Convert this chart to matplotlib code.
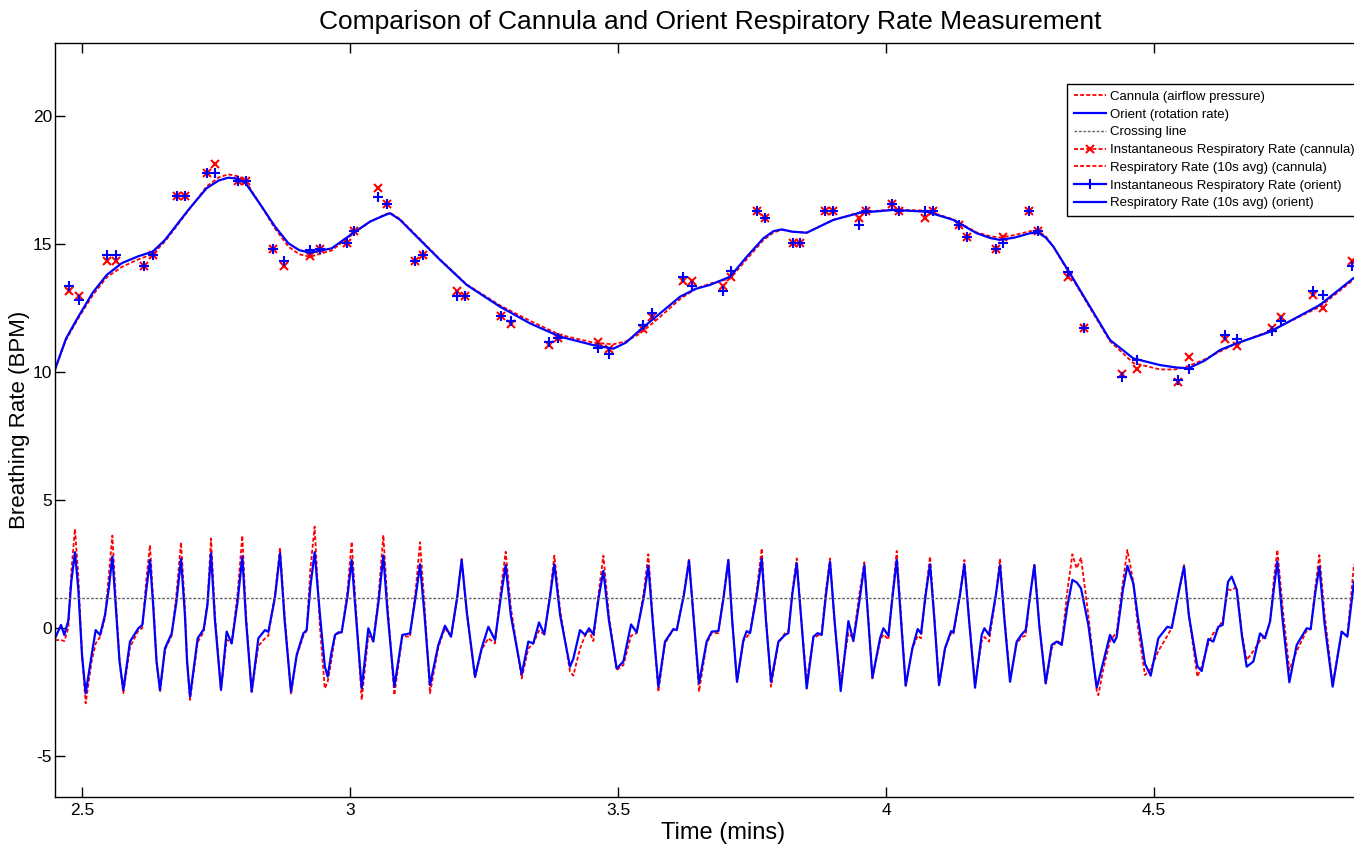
import matplotlib.pyplot as plt
from matplotlib.lines import Line2D

plt.rcParams['font.family'] = ['Liberation Sans', 'DejaVu Sans']
plt.rcParams['axes.unicode_minus'] = False

# breathing waveforms (time in mins, amplitude)
wave_t = [
    2.4496, 2.4608, 2.4670, 2.4745, 2.4800, 2.4869, 2.4931, 2.5000, 2.5068, 2.5180,
    2.5255, 2.5336, 2.5429, 2.5500, 2.5566, 2.5640, 2.5700, 2.5771, 2.5895, 2.6051,
    2.6125, 2.6200, 2.6268, 2.6330, 2.6390, 2.6455, 2.6548, 2.6673, 2.6760, 2.6847,
    2.6920, 2.6960, 2.7015, 2.7158, 2.7270, 2.7340, 2.7407, 2.7480, 2.7593, 2.7699,
    2.7792, 2.7900, 2.7991, 2.8060, 2.8165, 2.8290, 2.8414, 2.8476, 2.8600, 2.8694,
    2.8780, 2.8899, 2.9005, 2.9129, 2.9191, 2.9260, 2.9340, 2.9440, 2.9530, 2.9583,
    2.9650, 2.9720, 2.9782, 2.9844, 2.9950, 3.0031, 3.0110, 3.0218, 3.0342, 3.0435,
    3.0530, 3.0622, 3.0700, 3.0827, 3.0976, 3.1119, 3.1230, 3.1306, 3.1390, 3.1492,
    3.1648, 3.1772, 3.1884, 3.2000, 3.2083, 3.2180, 3.2332, 3.2456, 3.2581, 3.2705,
    3.2820, 3.2904, 3.3000, 3.3203, 3.3327, 3.3420, 3.3526, 3.3625, 3.3730, 3.3812,
    3.3920, 3.4104, 3.4166, 3.4291, 3.4385, 3.4459, 3.4540, 3.4640, 3.4727, 3.4830,
    3.4975, 3.5100, 3.5243, 3.5349, 3.5480, 3.5566, 3.5650, 3.5753, 3.5877, 3.6033,
    3.6095, 3.6230, 3.6325, 3.6410, 3.6511, 3.6654, 3.6748, 3.6872, 3.6970, 3.7059,
    3.7130, 3.7220, 3.7339, 3.7401, 3.7463, 3.7590, 3.7681, 3.7760, 3.7855, 3.7992,
    3.8116, 3.8178, 3.8250, 3.8334, 3.8420, 3.8520, 3.8645, 3.8725, 3.8800, 3.8880,
    3.8955, 3.9040, 3.9154, 3.9298, 3.9391, 3.9500, 3.9596, 3.9670, 3.9746, 3.9889,
    3.9951, 4.0044, 4.0120, 4.0200, 4.0280, 4.0367, 4.0492, 4.0591, 4.0653, 4.0740,
    4.0821, 4.0900, 4.0989, 4.1101, 4.1213, 4.1257, 4.1380, 4.1462, 4.1550, 4.1661,
    4.1785, 4.1835, 4.1922, 4.2050, 4.2127, 4.2210, 4.2314, 4.2438, 4.2532, 4.2606,
    4.2690, 4.2768, 4.2860, 4.2979, 4.3091, 4.3185, 4.3278, 4.3380, 4.3477, 4.3558,
    4.3638, 4.3775, 4.3931, 4.3961, 4.4055, 4.4179, 4.4254, 4.4303, 4.4420, 4.4503,
    4.4614, 4.4700, 4.4832, 4.4938, 4.5081, 4.5249, 4.5330, 4.5480, 4.5560, 4.5650,
    4.5808, 4.5889, 4.6014, 4.6107, 4.6200, 4.6281, 4.6380, 4.6449, 4.6542, 4.6640,
    4.6729, 4.6853, 4.6978, 4.7071, 4.7164, 4.7240, 4.7301, 4.7400, 4.7525, 4.7662,
    4.7848, 4.7923, 4.8010, 4.8085, 4.8180, 4.8333, 4.8501, 4.8607, 4.8731,
]
orient_wave = [
    -0.40, 0.12, -0.27, 0.30, 1.81, 2.96, 1.50, -1.05, -2.55, -1.05,
    -0.08, -0.27, 0.51, 1.55, 2.79, 0.51, -1.30, -2.42, -0.53, -0.01,
    0.12, 1.50, 2.66, 0.80, -1.30, -2.42, -0.79, -0.21, 1.00, 2.70,
    0.50, -1.30, -2.68, -0.40, -0.05, 0.90, 2.92, 0.30, -2.42, -0.14,
    -0.60, 1.00, 2.79, 0.30, -2.49, -0.40, -0.08, -0.15, 1.20, 2.92,
    0.30, -2.49, -1.05, -0.21, -0.08, 1.60, 2.96, 0.50, -1.50, -1.90,
    -1.00, -0.27, -0.17, -0.17, 1.20, 2.66, 0.50, -2.36, -0.01, -0.53,
    1.00, 2.83, 0.60, -2.29, -0.27, -0.21, 1.30, 2.49, 0.50, -2.23,
    -0.66, 0.09, -0.34, 1.20, 2.66, 0.60, -1.90, -0.79, 0.05, -0.47,
    1.30, 2.46, 0.50, -1.81, -0.53, -0.60, 0.22, -0.25, 1.20, 2.49,
    0.50, -1.51, -1.20, -0.08, -0.27, -0.01, -0.25, 1.20, 2.23, 0.30,
    -1.58, -1.31, 0.14, -0.17, 1.20, 2.43, 0.20, -2.29, -0.53, -0.04,
    -0.08, 1.30, 2.62, 0.40, -2.16, -0.53, -0.14, -0.12, 1.20, 2.66,
    0.30, -2.10, -0.47, -0.12, -0.20, 1.30, 2.72, 0.30, -2.10, -0.53,
    -0.27, -0.20, 1.30, 2.53, 0.30, -2.36, -0.34, -0.20, -0.27, 1.30,
    2.59, 0.30, -2.46, 0.27, -0.51, 1.00, 2.46, 0.30, -1.94, -0.40,
    -0.01, -0.30, 1.20, 2.66, 0.30, -2.25, -0.79, -0.04, -0.21, 1.30,
    2.49, 0.40, -2.23, -0.79, -0.12, -0.17, 1.30, 2.49, 0.30, -2.33,
    -0.27, -0.01, -0.27, 1.30, 2.46, 0.30, -2.10, -0.53, -0.25, -0.08,
    1.30, 2.46, 0.10, -2.16, -0.66, -0.53, -0.66, 0.80, 1.88, 1.78,
    1.55, 0.12, -2.33, -2.10, -1.31, -0.27, -0.56, -0.35, 1.50, 2.43,
    1.74, 0.40, -1.40, -1.86, -0.40, 0.05, 0.00, 1.60, 2.40, 0.50,
    -1.50, -1.68, -0.43, -0.53, 0.05, 0.12, 1.80, 2.01, 1.50, -0.30,
    -1.51, -1.31, -0.21, -0.40, 0.25, 1.60, 2.59, 0.30, -2.12, -0.66,
    -0.01, -0.04, 1.40, 2.40, 0.20, -2.29, -0.14, -0.34, 1.80,
]
cannula_wave = [
    -0.47, -0.47, -0.51, 0.00, 2.20, 3.87, 2.00, -1.05, -2.94, -1.30,
    -0.60, -0.35, 0.40, 2.07, 3.61, 0.77, -1.30, -2.55, -0.75, -0.10,
    0.00, 1.90, 3.24, 1.00, -1.30, -2.50, -0.85, -0.30, 1.30, 3.35,
    0.80, -1.30, -2.81, -0.55, -0.15, 1.00, 3.50, 0.50, -2.42, -0.45,
    -0.60, 1.30, 3.61, 0.50, -2.49, -0.70, -0.40, -0.30, 1.30, 3.14,
    0.50, -2.59, -1.10, -0.30, -0.10, 2.30, 3.96, 0.00, -2.36, -2.10,
    -1.30, -0.30, -0.20, -0.20, 1.40, 3.37, 0.80, -2.81, -0.30, -0.50,
    1.20, 3.63, 0.90, -2.62, -0.30, -0.35, 1.60, 3.35, 0.90, -2.55,
    -0.75, 0.00, -0.34, 1.20, 2.70, 0.60, -1.95, -0.85, -0.40, -0.60,
    1.60, 2.98, 0.80, -1.97, -0.80, -0.60, -0.10, -0.25, 1.30, 2.83,
    0.70, -1.70, -1.86, -0.80, -0.30, -0.10, -0.51, 1.40, 2.83, 0.50,
    -1.64, -1.45, -0.30, -0.20, 1.40, 2.88, 0.30, -2.49, -0.60, -0.05,
    -0.10, 1.40, 2.72, 0.50, -2.49, -0.60, -0.20, -0.20, 1.30, 2.66,
    0.30, -2.10, -0.50, -0.35, -0.20, 1.50, 3.11, 0.40, -2.29, -0.60,
    -0.20, -0.15, 1.40, 2.72, 0.30, -2.10, -0.40, -0.30, -0.20, 1.50,
    2.72, 0.20, -2.10, -0.20, -0.40, 1.30, 2.57, 0.30, -1.97, -0.50,
    -0.25, -0.45, 1.30, 3.01, 0.50, -2.25, -0.80, -0.30, -0.40, 1.40,
    2.79, 0.50, -2.23, -0.80, -0.20, -0.25, 1.30, 2.66, 0.30, -2.16,
    -0.50, -0.35, -0.53, 1.30, 2.72, 0.40, -2.00, -0.60, -0.35, -0.30,
    1.30, 2.46, 0.10, -2.16, -0.80, -0.50, -0.60, 1.40, 2.88, 2.33,
    2.75, 0.50, -2.45, -2.62, -1.60, -0.50, -0.30, -0.15, 1.80, 3.05,
    1.80, 0.00, -1.84, -1.60, -0.90, -0.30, 0.00, 1.60, 2.46, 0.50,
    -1.90, -1.50, -0.60, -0.20, 0.00, 0.30, 1.50, 1.48, 1.61, -0.20,
    -1.25, -0.90, -0.50, -0.30, 0.20, 2.00, 3.05, 0.80, -1.64, -0.90,
    -0.10, -0.05, 1.60, 2.85, 0.60, -2.20, -0.15, -0.30, 2.50,
]
crossing_level = 1.16

# instantaneous respiratory rate (BPM) at each detected breath
inst_t = [
    2.4757, 2.4935, 2.5461, 2.5634, 2.6162, 2.6319, 2.6767, 2.6922, 2.7326, 2.7481,
    2.7905, 2.8054, 2.8569, 2.8763, 2.9254, 2.9446, 2.9938, 3.0080, 3.0517, 3.0696,
    3.1213, 3.1368, 3.1991, 3.2151, 3.2812, 3.2998, 3.3718, 3.3881, 3.4632, 3.4826,
    3.5472, 3.5634, 3.6207, 3.6375, 3.6965, 3.7103, 3.7588, 3.7737, 3.8259, 3.8396,
    3.8867, 3.9017, 3.9502, 3.9627, 4.0112, 4.0248, 4.0733, 4.0871, 4.1368, 4.1517,
    4.2052, 4.2183, 4.2659, 4.2842, 4.3401, 4.3694, 4.4409, 4.4677, 4.5453, 4.5649,
    4.6333, 4.6542, 4.7196, 4.7369, 4.7972, 4.8159, 4.8689,
]
inst_cannula = [
    13.18, 12.98, 14.35, 14.35, 14.14, 14.57, 16.88, 16.88, 17.79, 18.13,
    17.47, 17.47, 14.79, 14.14, 14.53, 14.79, 15.03, 15.51, 17.18, 16.56,
    14.35, 14.56, 13.18, 12.98, 12.19, 11.88, 11.04, 11.33, 11.17, 10.89,
    11.69, 12.16, 13.54, 13.54, 13.36, 13.72, 16.29, 16.00, 15.03, 15.03,
    16.29, 16.29, 16.00, 16.29, 16.56, 16.29, 16.00, 16.29, 15.75, 15.26,
    14.79, 15.26, 16.29, 15.51, 13.72, 11.71, 9.92, 10.11, 9.61, 10.57,
    11.30, 11.02, 11.73, 12.16, 13.00, 12.49, 14.35,
]
inst_orient = [
    13.36, 12.81, 14.57, 14.57, 14.14, 14.57, 16.88, 16.88, 17.79, 17.79,
    17.47, 17.47, 14.79, 14.35, 14.77, 14.79, 15.03, 15.51, 16.85, 16.56,
    14.35, 14.56, 12.98, 12.98, 12.19, 12.00, 11.17, 11.33, 10.94, 10.70,
    11.85, 12.32, 13.72, 13.36, 13.18, 13.93, 16.29, 16.00, 15.03, 15.03,
    16.29, 16.29, 15.75, 16.29, 16.56, 16.29, 16.29, 16.29, 15.75, 15.26,
    14.79, 15.03, 16.29, 15.51, 13.92, 11.71, 9.82, 10.47, 9.69, 10.13,
    11.45, 11.30, 11.59, 12.00, 13.18, 13.00, 14.14,
]

# 10 s averaged respiratory rate (BPM)
avg_t = [
    2.4496, 2.4700, 2.4931, 2.5200, 2.5461, 2.5741, 2.6050, 2.6319, 2.6549, 2.6983,
    2.7326, 2.7550, 2.7729, 2.7900, 2.8054, 2.8353, 2.8601, 2.8849, 2.9050, 2.9254,
    2.9659, 3.0093, 3.0380, 3.0653, 3.0746, 3.0930, 3.1181, 3.1679, 3.2177, 3.2799,
    3.3358, 3.3918, 3.4539, 3.4912, 3.5150, 3.5410, 3.5784, 3.6157, 3.6450, 3.6716,
    3.7090, 3.7401, 3.7711, 3.7900, 3.8054, 3.8250, 3.8521, 3.9017, 3.9515, 4.0136,
    4.0759, 4.1256, 4.1692, 4.1950, 4.2127, 4.2400, 4.2687, 4.2842, 4.2980, 4.3121,
    4.3433, 4.3806, 4.4179, 4.4614, 4.5112, 4.5400, 4.5640, 4.5950, 4.6231, 4.6542,
    4.7164, 4.8097, 4.8718,
]
avg_orient = [
    10.10, 11.30, 12.16, 13.10, 13.79, 14.25, 14.52, 14.70, 15.16, 16.33,
    17.18, 17.48, 17.59, 17.55, 17.37, 16.46, 15.68, 15.03, 14.76, 14.66,
    14.83, 15.48, 15.88, 16.13, 16.20, 15.95, 15.42, 14.38, 13.40, 12.55,
    11.90, 11.38, 11.05, 10.91, 11.15, 11.64, 12.29, 12.94, 13.25, 13.40,
    13.72, 14.50, 15.22, 15.50, 15.57, 15.48, 15.44, 15.94, 16.22, 16.33,
    16.26, 15.94, 15.42, 15.23, 15.16, 15.25, 15.42, 15.44, 15.25, 14.90,
    13.85, 12.55, 11.25, 10.53, 10.27, 10.18, 10.14, 10.45, 10.86, 11.12,
    11.57, 12.62, 13.66,
]
avg_cannula = [
    10.10, 11.25, 12.10, 13.00, 13.70, 14.10, 14.40, 14.60, 15.10, 16.30,
    17.25, 17.60, 17.72, 17.65, 17.45, 16.45, 15.60, 14.90, 14.60, 14.50,
    14.75, 15.45, 15.88, 16.15, 16.22, 15.98, 15.45, 14.40, 13.42, 12.60,
    12.00, 11.45, 11.15, 11.08, 11.20, 11.50, 12.15, 12.85, 13.25, 13.45,
    13.65, 14.40, 15.15, 15.45, 15.55, 15.48, 15.44, 15.94, 16.24, 16.35,
    16.30, 15.96, 15.45, 15.30, 15.25, 15.35, 15.50, 15.50, 15.30, 14.90,
    13.80, 12.50, 11.20, 10.35, 10.10, 10.10, 10.23, 10.50, 10.80, 11.12,
    11.60, 12.55, 13.60,
]

xticks = [2.5, 3, 3.5, 4, 4.5]
xticklabels = ['2.5', '3', '3.5', '4', '4.5']
yticks = [-5, 0, 5, 10, 15, 20]

red_dash = (0, (2.2, 1.2))
gray_dash = (0, (2, 1.2))

fig = plt.figure(figsize=(13.54, 8.49), dpi=100)
# right edge of the axes sits just past the edge of the canvas
ax_w_px = 1306
ax = fig.add_axes([55 / 1354, 52 / 849, ax_w_px / 1354, 754 / 849])

ax.plot(wave_t, cannula_wave, color='red', lw=1.3, linestyle=red_dash)
ax.plot(wave_t, orient_wave, color='blue', lw=1.6)
ax.axhline(crossing_level, color='#666666', lw=1.0, linestyle=gray_dash)
ax.plot(inst_t, inst_cannula, linestyle='none', marker='x', color='red',
        markersize=6, markeredgewidth=1.5)
ax.plot(avg_t, avg_cannula, color='red', lw=1.3, linestyle=red_dash)
ax.plot(inst_t, inst_orient, linestyle='none', marker='+', color='blue',
        markersize=7, markeredgewidth=1.5)
ax.plot(avg_t, avg_orient, color='blue', lw=1.6)

ax.set_xlim(2.4496, 2.4496 + ax_w_px / 536)
ax.set_ylim(-6.6, 22.85)
ax.set_xticks(xticks)
ax.set_xticklabels(xticklabels)
ax.set_yticks(yticks)
ax.tick_params(direction='in', length=7, width=1, top=True, right=False,
               labelsize=12.5, pad=4)
ax.tick_params(axis='y', pad=2)
for s in ax.spines.values():
    s.set_linewidth(1.0)

ax.set_title('Comparison of Cannula and Orient Respiratory Rate Measurement',
             fontsize=19, pad=10, x=(710 - 55) / ax_w_px)
ax.set_xlabel('Time (mins)', fontsize=17)
ax.xaxis.set_label_coords((723 - 55) / ax_w_px, -0.033)
ax.set_ylabel('Breathing Rate (BPM)', fontsize=16)
ax.yaxis.set_label_coords(-0.019, 0.5)

handles = [
    Line2D([], [], color='red', lw=1.3, linestyle=red_dash),
    Line2D([], [], color='blue', lw=1.6),
    Line2D([], [], color='#666666', lw=1.0, linestyle=gray_dash),
    Line2D([], [], color='red', lw=1.3, linestyle=red_dash, marker='x',
           markersize=6, markeredgewidth=1.5),
    Line2D([], [], color='red', lw=1.3, linestyle=red_dash),
    Line2D([], [], color='blue', lw=1.6, marker='+', markersize=7,
           markeredgewidth=1.5),
    Line2D([], [], color='blue', lw=1.6),
]
labels = [
    'Cannula (airflow pressure)',
    'Orient (rotation rate)',
    'Crossing line',
    'Instantaneous Respiratory Rate (cannula)',
    'Respiratory Rate (10s avg) (cannula)',
    'Instantaneous Respiratory Rate (orient)',
    'Respiratory Rate (10s avg) (orient)',
]
leg = ax.legend(handles, labels, loc='upper left',
                bbox_to_anchor=((1067 - 55) / ax_w_px, (797 - 84) / 754),
                borderaxespad=0, fontsize=9.5, handlelength=2.45, labelspacing=0.42,
                fancybox=False, framealpha=1, edgecolor='black', borderpad=0.5,
                handletextpad=0.3)
leg.get_frame().set_linewidth(1.0)

fig.savefig('out.png', dpi=100)
